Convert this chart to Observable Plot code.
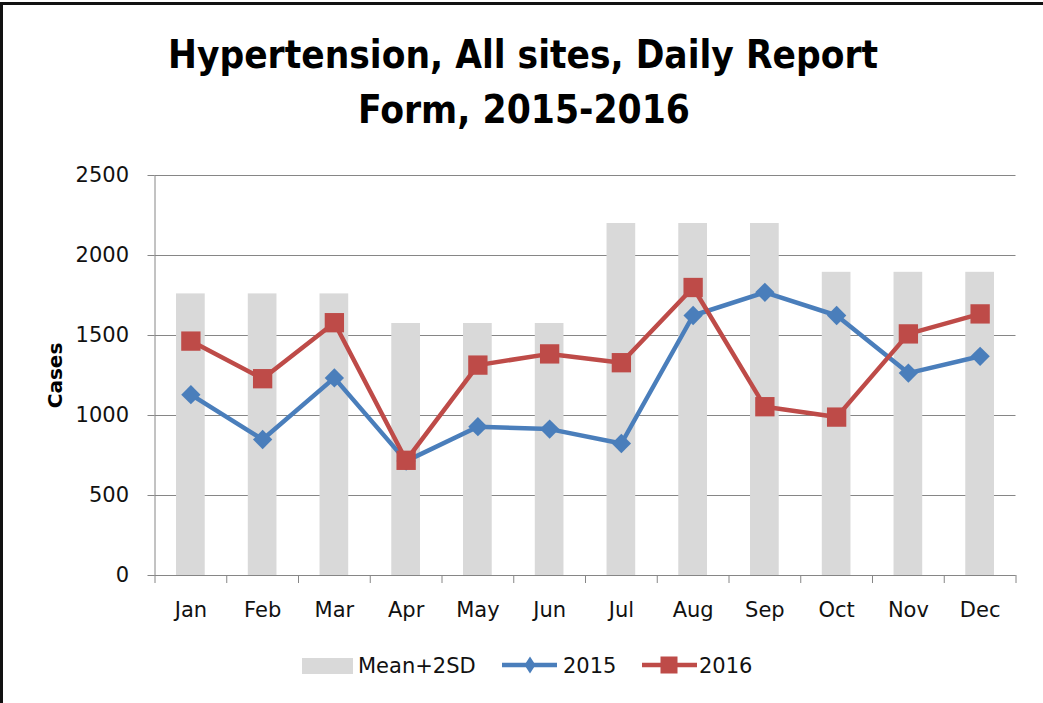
<!DOCTYPE html>
<html>
<head>
<meta charset="utf-8">
<script src="https://cdn.jsdelivr.net/npm/d3@7"></script>
<script src="https://cdn.jsdelivr.net/npm/@observablehq/plot@0.6"></script>
<style>
  html, body { margin: 0; padding: 0; background: white; }
  #wrap { position: relative; width: 1043px; height: 703px; overflow: hidden; background: white; }
  #wrap svg { display: block; }
  .bt { position: absolute; left: 0; top: 2px; width: 1043px; height: 3px; background: #111; }
  .bl { position: absolute; left: 0; top: 2px; width: 3px; height: 701px; background: #111; }
</style>
</head>
<body>
<div id="wrap"></div>
<script>
// ---- data ----
const months = ["Jan", "Feb", "Mar", "Apr", "May", "Jun", "Jul", "Aug", "Sep", "Oct", "Nov", "Dec"];
const mean2sd = [1760, 1760, 1760, 1575, 1575, 1575, 2200, 2200, 2200, 1895, 1895, 1895];
const cases2015 = [1130, 850, 1235, 715, 930, 915, 825, 1625, 1770, 1625, 1265, 1370];
const cases2016 = [1465, 1230, 1580, 720, 1315, 1385, 1330, 1800, 1055, 990, 1510, 1635];
const yTicks = [0, 500, 1000, 1500, 2000, 2500];
const titleLines = ["Hypertension, All sites, Daily Report", "Form, 2015-2016"];
const legendLabels = ["Mean+2SD", "2015", "2016"];

const colors = { bar: "#D9D9D9", s2015: "#4A7EBB", s2016: "#BE4B48", grid: "#868686" };
const data = months.map((m, i) => ({ month: m, mean: mean2sd[i], v2015: cases2015[i], v2016: cases2016[i] }));

const W = 1043, ML = 154.5, MR = 27.5;
const step = (W - ML - MR) / months.length;
const FONT = "'DejaVu Sans', 'Liberation Sans', sans-serif";
const wrap = document.getElementById("wrap");
const NS = "http://www.w3.org/2000/svg";

// ---- title ----
const tsvg = document.createElementNS(NS, "svg");
tsvg.setAttribute("width", W); tsvg.setAttribute("height", 150);
const tspecs = [{ x: 168, y: 68, len: 710 }, { x: 358, y: 123, len: 332 }];
titleLines.forEach((t, i) => {
  const el = document.createElementNS(NS, "text");
  el.setAttribute("x", tspecs[i].x); el.setAttribute("y", tspecs[i].y);
  el.setAttribute("textLength", tspecs[i].len);
  el.setAttribute("lengthAdjust", "spacingAndGlyphs");
  el.setAttribute("font-family", "'Liberation Sans Narrow', 'DejaVu Sans Condensed', 'DejaVu Sans', sans-serif");
  el.setAttribute("font-weight", "bold");
  el.setAttribute("font-size", 39);
  el.setAttribute("fill", "#000");
  el.textContent = t;
  tsvg.appendChild(el);
});
wrap.appendChild(tsvg);

// ---- chart ----
const chart = Plot.plot({
  width: W, height: 490,
  marginTop: 25, marginBottom: 65, marginLeft: ML, marginRight: MR,
  style: { fontFamily: FONT, fontSize: "21px", color: "#111", background: "white", overflow: "visible" },
  x: { domain: months, paddingInner: 0.6, paddingOuter: 0.3, round: false, tickSize: 0, tickPadding: 27, label: null },
  y: { domain: [0, 2500], ticks: yTicks, tickSize: 7, tickPadding: 19, tickFormat: "d", label: null },
  marks: [
    Plot.ruleY(yTicks, { stroke: colors.grid, strokeWidth: 1 }),
    Plot.barY(data, { x: "month", y: "mean", fill: colors.bar }),
    Plot.ruleY([0], { stroke: colors.grid, strokeWidth: 1 }),
    Plot.ruleX(["Jan"], { x: d => d, dx: -step / 2, y1: 0, y2: 2500, stroke: colors.grid }),
    Plot.ruleX(months, { x: d => d, dx: -step / 2, y1: 0, y2: 0, insetBottom: -8, stroke: colors.grid }),
    Plot.ruleX(["Dec"], { x: d => d, dx: step / 2, y1: 0, y2: 0, insetBottom: -8, stroke: colors.grid }),
    Plot.text(["Cases"], { frameAnchor: "left", textAnchor: "middle", dx: -99, rotate: -90, fontWeight: "bold", fontSize: 20, fill: "#000" }),
    Plot.line(data, { x: "month", y: "v2015", stroke: colors.s2015, strokeWidth: 4.5 }),
    Plot.dot(data, { x: "month", y: "v2015", symbol: "diamond2", r: 8.7, fill: colors.s2015, stroke: "none" }),
    Plot.line(data, { x: "month", y: "v2016", stroke: colors.s2016, strokeWidth: 4.5 }),
    Plot.dot(data, { x: "month", y: "v2016", symbol: "square", r: 10.9, fill: colors.s2016, stroke: "none" })
  ]
});
chart.querySelectorAll('[aria-label^="y-axis"] line, [aria-label="y-axis tick"] path').forEach(e => e.setAttribute("stroke", colors.grid));
chart.querySelectorAll('[aria-label="y-axis tick"]').forEach(e => e.setAttribute("stroke", colors.grid));
wrap.appendChild(chart);

// ---- legend ----
const lsvg = document.createElementNS(NS, "svg");
lsvg.setAttribute("width", W); lsvg.setAttribute("height", 63);
function add(tag, attrs, text) {
  const el = document.createElementNS(NS, tag);
  for (const k in attrs) el.setAttribute(k, attrs[k]);
  if (text != null) el.textContent = text;
  lsvg.appendChild(el);
  return el;
}
const ly = 25;
add("rect", { x: 302, y: ly - 7, width: 51, height: 16, fill: colors.bar });
add("line", { x1: 502, x2: 557, y1: ly, y2: ly, stroke: colors.s2015, "stroke-width": 4.5 });
add("path", { d: `M530,${ly - 8.5}L535.5,${ly}L530,${ly + 8.5}L524.5,${ly}Z`, fill: colors.s2015 });
add("line", { x1: 642, x2: 697, y1: ly, y2: ly, stroke: colors.s2016, "stroke-width": 4.5 });
add("rect", { x: 660.5, y: ly - 8.5, width: 17, height: 17, fill: colors.s2016 });
const lx = [358, 563, 699];
legendLabels.forEach((t, i) => add("text", { x: lx[i], y: ly + 8, "font-family": FONT, "font-size": 21, fill: "#111" }, t));
wrap.appendChild(lsvg);

// ---- frame border ----
const bt = document.createElement("div"); bt.className = "bt"; wrap.appendChild(bt);
const bl = document.createElement("div"); bl.className = "bl"; wrap.appendChild(bl);
</script>
</body>
</html>
